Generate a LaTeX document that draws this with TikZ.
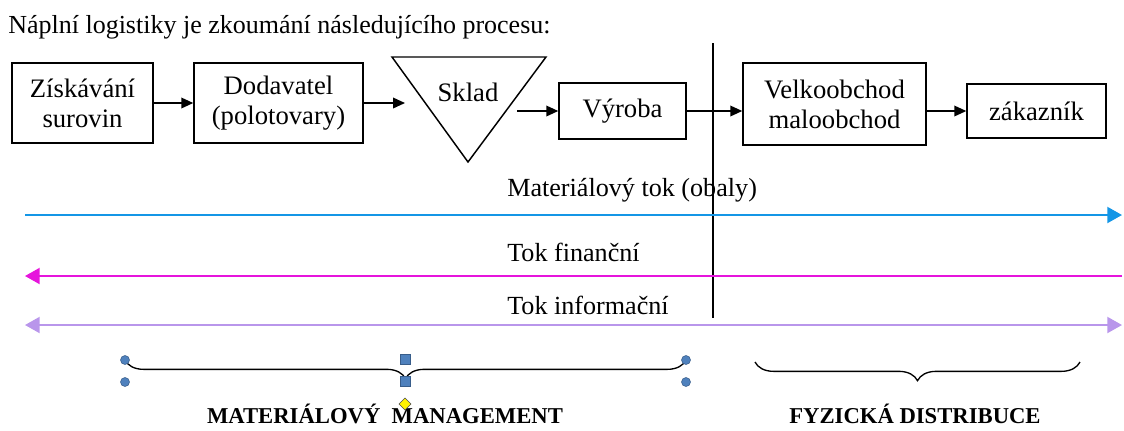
\documentclass[tikz,border=0pt]{standalone}
\usepackage{fontspec}
\setmainfont{Liberation Serif}
\usetikzlibrary{arrows.meta,decorations.pathreplacing}
\definecolor{tokblue}{RGB}{20,150,230}
\definecolor{tokmag}{RGB}{230,20,220}
\definecolor{toklila}{RGB}{185,150,235}
\definecolor{handblue}{RGB}{79,129,189}
\definecolor{handline}{RGB}{56,93,138}
\begin{document}
\begin{tikzpicture}[x=0.75pt,y=-0.75pt,
    box/.style={draw, line width=1.1pt, align=center, inner sep=0pt,
        font=\fontsize{20}{22.5}\selectfont},
    pfeil/.style={-{Triangle[length=9pt,width=8pt]}, line width=1.1pt},
    tokpfeil/.style={line width=1.5pt},
    toklabel/.style={anchor=west, inner sep=0pt, font=\fontsize{19.6}{21}\selectfont},
    bigtitle/.style={anchor=south, inner sep=0pt, font=\bfseries\fontsize{17}{19}\selectfont},
    griff/.style={fill=handblue, draw=handline, line width=0.4pt},
    klammer/.style={decorate, decoration={brace, amplitude=14pt}, line width=1pt}]
    \useasboundingbox (0,0) rectangle (1124,430);

    \node[anchor=west, inner sep=0pt, font=\fontsize{19.5}{21}\selectfont] (titel) at (8,27)
        {Náplní logistiky je zkoumání následujícího procesu:};

    \node[box, minimum width=141*0.75pt, minimum height=80*0.75pt] (zisk) at (82.5,103) {Získávání\\surovin};
    \node[box, minimum width=169*0.75pt, minimum height=80*0.75pt] (dod) at (278.5,103) {Dodavatel\\(polotovary)};
    \draw[line width=1.1pt] (392,57) -- (546,57) -- (468,162) -- cycle;
    \node[font=\fontsize{20}{22}\selectfont, inner sep=0pt] (sklad) at (468,92) {Sklad};
    \coordinate (sklin) at (405,103);
    \coordinate (sklout) at (517,111);
    \node[box, minimum width=127*0.75pt, minimum height=56*0.75pt] (vyroba) at (622.5,111) {Výroba};
    \node[box, minimum width=183*0.75pt, minimum height=82*0.75pt] (velko) at (834.5,104) {Velkoobchod\\maloobchod};
    \node[box, minimum width=139*0.75pt, minimum height=54*0.75pt] (zak) at (1036.5,111) {zákazník};

    \draw[pfeil] (zisk) -- (dod);
    \draw[pfeil] (dod) -- (sklin);
    \draw[pfeil] (sklout) -- (vyroba);
    \draw[pfeil] (vyroba.east) -- (vyroba.east -| velko.west);
    \draw[pfeil] (zak.west -| velko.east) -- (zak.west);

    \coordinate (vtop) at (713,43);
    \coordinate (vbot) at (713,318);
    \draw[line width=0.9pt] (vtop) -- (vbot);

    \coordinate (matL) at (25,215);
    \coordinate (matR) at (1122,215);
    \coordinate (finL) at (25,276);
    \coordinate (finR) at (1122,276);
    \coordinate (infL) at (25,325);
    \coordinate (infR) at (1122,325);
    \draw[tokpfeil, tokblue, -{Triangle[length=11pt,width=12pt]}] (matL) -- (matR);
    \draw[tokpfeil, tokmag, -{Triangle[length=11pt,width=12pt]}] (finR) -- (finL);
    \draw[tokpfeil, toklila, {Triangle[length=11pt,width=12pt]}-{Triangle[length=11pt,width=12pt]}] (infL) -- (infR);
    \node[toklabel] (matlbl) at (507,190) {Materiálový tok (obaly)};
    \node[toklabel] (finlbl) at (507,252) {Tok finanční};
    \node[toklabel] (inflbl) at (507,305) {Tok informační};

    \coordinate (mmL) at (125,360);
    \coordinate (mmR) at (686,360);
    \coordinate (fdL) at (755,362);
    \coordinate (fdR) at (1080,362);
    \draw[klammer] (mmR) -- (mmL);
    \draw[klammer] (fdR) -- (fdL);
    \node[bigtitle] (mmlbl) at (385,424) {MATERIÁLOVÝ\ \ MANAGEMENT};
    \node[bigtitle] (fdlbl) at (915,424) {FYZICKÁ DISTRIBUCE};

    \fill[griff] (125,360) circle (4.5);
    \fill[griff] (125,382) circle (4.5);
    \fill[griff] (686,360) circle (4.5);
    \fill[griff] (686,382) circle (4.5);
    \filldraw[griff] (400,354) rectangle (410,364);
    \filldraw[griff] (400,376) rectangle (410,386);
    \filldraw[fill=yellow, draw=black!70, line width=0.4pt] (405,398) -- (411,404) -- (405,410) -- (399,404) -- cycle;
\end{tikzpicture}
\end{document}
